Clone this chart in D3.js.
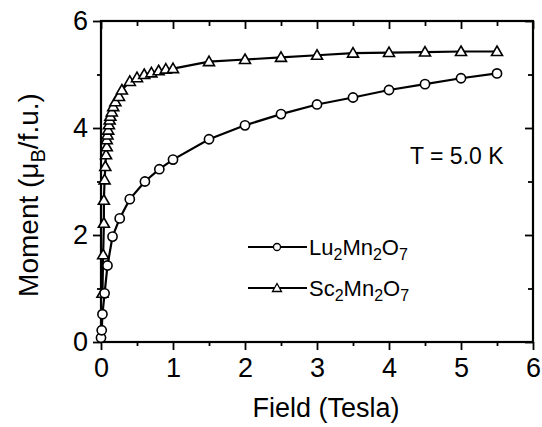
<!DOCTYPE html>
<html lang="en">
  <head>
    <meta charset="UTF-8" />
    <title>Moment vs Field</title>
    <script src="https://d3js.org/d3.v7.min.js"></script>
    <style>
      body {
        margin: 0;
        background: #fff;
      }
      svg text {
        font-family: 'Liberation Sans', Arial, sans-serif;
        fill: #000;
      }
    </style>
  </head>
  <body>
    <div id="chart"></div>
    <script>
      // Lu2Mn2O7 (circles)
      const luField = [0, 0.01, 0.02, 0.05, 0.09, 0.16, 0.26, 0.4, 0.61, 0.81, 1.0,
        1.5, 2.0, 2.5, 3.0, 3.5, 4.0, 4.5, 5.0, 5.5];
      const luMoment = [0.08, 0.22, 0.52, 0.91, 1.43, 1.97, 2.31, 2.67, 3.0, 3.23, 3.41,
        3.79, 4.05, 4.26, 4.44, 4.57, 4.71, 4.82, 4.93, 5.02];

      // Sc2Mn2O7 (triangles)
      const scField = [0.02, 0.03, 0.04, 0.04, 0.05, 0.06, 0.07, 0.08, 0.08, 0.09, 0.1,
        0.11, 0.12, 0.13, 0.15, 0.17, 0.2, 0.25, 0.29, 0.4, 0.5, 0.6, 0.7, 0.8, 0.9, 1.0,
        1.5, 2.0, 2.5, 3.0, 3.5, 4.0, 4.5, 5.0, 5.5];
      const scMoment = [0.91, 1.63, 2.22, 2.65, 3.03, 3.28, 3.5, 3.65, 3.78, 3.87, 3.96,
        4.06, 4.15, 4.22, 4.3, 4.4, 4.49, 4.59, 4.71, 4.87, 4.94, 5.0, 5.03, 5.07, 5.1, 5.11,
        5.24, 5.28, 5.32, 5.36, 5.4, 5.41, 5.42, 5.43, 5.43];

      const xMajor = [0, 1, 2, 3, 4, 5, 6];
      const xMinor = [0.5, 1.5, 2.5, 3.5, 4.5, 5.5];
      const yMajor = [0, 2, 4, 6];
      const yMinor = [1, 3, 5];

      const width = 542;
      const height = 427;

      const svg = d3
        .select('#chart')
        .append('svg')
        .attr('width', width)
        .attr('height', height);

      const x = d3.scaleLinear().domain([0, 6]).range([101, 533]);
      const y = d3.scaleLinear().domain([0, 6]).range([342, 21]);

      // frame
      svg
        .append('rect')
        .attr('x', x(0))
        .attr('y', y(6))
        .attr('width', x(6) - x(0))
        .attr('height', y(0) - y(6))
        .attr('fill', 'none')
        .attr('stroke', '#000')
        .attr('stroke-width', 2.2);

      function styleAxis(g) {
        g.select('.domain').remove();
        g.selectAll('line').attr('stroke', '#000').attr('stroke-width', 1.8);
      }

      // bottom: outward ticks with labels
      svg
        .append('g')
        .attr('transform', `translate(0,${y(0)})`)
        .call(d3.axisBottom(x).tickValues(xMajor).tickSize(8).tickPadding(8).tickFormat(d3.format('d')))
        .call(styleAxis)
        .call((g) => g.selectAll('text').attr('font-size', 27));
      svg
        .append('g')
        .attr('transform', `translate(0,${y(0)})`)
        .call(d3.axisBottom(x).tickValues(xMinor).tickSize(4).tickFormat(''))
        .call(styleAxis);

      // top: inward ticks
      svg
        .append('g')
        .attr('transform', `translate(0,${y(6)})`)
        .call(d3.axisTop(x).tickValues(xMajor).tickSize(-8).tickFormat(''))
        .call(styleAxis);
      svg
        .append('g')
        .attr('transform', `translate(0,${y(6)})`)
        .call(d3.axisTop(x).tickValues(xMinor).tickSize(-5).tickFormat(''))
        .call(styleAxis);

      // left: outward ticks with labels
      svg
        .append('g')
        .attr('transform', `translate(${x(0)},0)`)
        .call(d3.axisLeft(y).tickValues(yMajor).tickSize(8).tickPadding(5).tickFormat(d3.format('d')))
        .call(styleAxis)
        .call((g) => g.selectAll('text').attr('font-size', 27));
      svg
        .append('g')
        .attr('transform', `translate(${x(0)},0)`)
        .call(d3.axisLeft(y).tickValues(yMinor).tickSize(4).tickFormat(''))
        .call(styleAxis);

      // right: inward ticks
      svg
        .append('g')
        .attr('transform', `translate(${x(6)},0)`)
        .call(d3.axisRight(y).tickValues(yMajor).tickSize(-8).tickFormat(''))
        .call(styleAxis);
      svg
        .append('g')
        .attr('transform', `translate(${x(6)},0)`)
        .call(d3.axisRight(y).tickValues(yMinor).tickSize(-5).tickFormat(''))
        .call(styleAxis);

      // axis titles
      svg
        .append('text')
        .attr('x', 326)
        .attr('y', 417)
        .attr('text-anchor', 'middle')
        .attr('font-size', 27)
        .text('Field (Tesla)');

      const yTitle = svg
        .append('text')
        .attr('transform', 'translate(38,195) rotate(-90)')
        .attr('text-anchor', 'middle')
        .attr('font-size', 28);
      yTitle.append('tspan').text('Moment (\u03bc');
      yTitle.append('tspan').attr('font-size', 20).attr('dy', 7).text('B');
      yTitle.append('tspan').attr('dy', -7).text('/f.u.)');

      // series
      const luData = luField.map((f, i) => [f, luMoment[i]]);
      const scData = scField.map((f, i) => [f, scMoment[i]]);

      const line = d3
        .line()
        .x((d) => x(d[0]))
        .y((d) => y(d[1]));

      const triPath = 'M0,-5.5L5.5,4L-5.5,4Z';

      svg
        .append('path')
        .datum(scData)
        .attr('d', line)
        .attr('fill', 'none')
        .attr('stroke', '#000')
        .attr('stroke-width', 2.2);
      svg
        .append('path')
        .datum(luData)
        .attr('d', line)
        .attr('fill', 'none')
        .attr('stroke', '#000')
        .attr('stroke-width', 2.2);

      svg
        .append('g')
        .selectAll('path')
        .data(scData)
        .join('path')
        .attr('d', triPath)
        .attr('transform', (d) => `translate(${x(d[0])},${y(d[1])})`)
        .attr('fill', '#fff')
        .attr('stroke', '#000')
        .attr('stroke-width', 1.6);

      svg
        .append('g')
        .selectAll('circle')
        .data(luData)
        .join('circle')
        .attr('cx', (d) => x(d[0]))
        .attr('cy', (d) => y(d[1]))
        .attr('r', 4.6)
        .attr('fill', '#fff')
        .attr('stroke', '#000')
        .attr('stroke-width', 1.6);

      // temperature label
      svg
        .append('text')
        .attr('x', 410)
        .attr('y', 164)
        .attr('font-size', 23)
        .text('T = 5.0 K');

      // legend
      const legendItems = [
        { name: ['Lu', '2', 'Mn', '2', 'O', '7'], shape: 'circle', yPos: 247 },
        { name: ['Sc', '2', 'Mn', '2', 'O', '7'], shape: 'triangle', yPos: 288 },
      ];
      const legend = svg.append('g');
      legendItems.forEach((item) => {
        legend
          .append('line')
          .attr('x1', 248)
          .attr('x2', 307)
          .attr('y1', item.yPos)
          .attr('y2', item.yPos)
          .attr('stroke', '#000')
          .attr('stroke-width', 1.8);
        if (item.shape === 'circle') {
          legend
            .append('circle')
            .attr('cx', 277)
            .attr('cy', item.yPos)
            .attr('r', 3.5)
            .attr('fill', '#fff')
            .attr('stroke', '#000')
            .attr('stroke-width', 1.3);
        } else {
          legend
            .append('path')
            .attr('d', 'M0,-4.5L4.5,3.5L-4.5,3.5Z')
            .attr('transform', `translate(277,${item.yPos})`)
            .attr('fill', '#fff')
            .attr('stroke', '#000')
            .attr('stroke-width', 1.3);
        }
        const t = legend
          .append('text')
          .attr('x', 309)
          .attr('y', item.yPos + 8)
          .attr('font-size', 22);
        item.name.forEach((part, i) => {
          const sub = i % 2 === 1;
          t.append('tspan')
            .attr('font-size', sub ? 16 : 22)
            .attr('dy', sub ? 5 : i === 0 ? 0 : -5)
            .text(part);
        });
      });
    </script>
  </body>
</html>
